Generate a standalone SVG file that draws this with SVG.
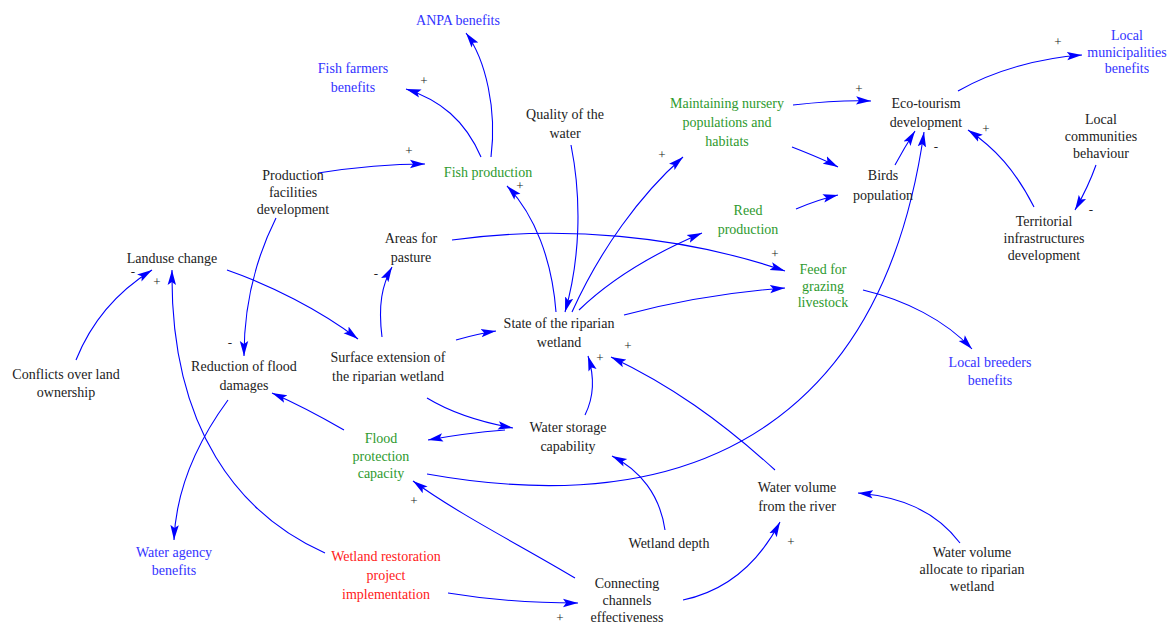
<svg xmlns="http://www.w3.org/2000/svg" width="1169" height="625" viewBox="0 0 1169 625">
<style>
text{font-family:"Liberation Serif","Times New Roman",serif;font-size:14px;text-anchor:middle;fill:#222}
.b{fill:#3333ff}.g{fill:#2e9a2e}.r{fill:#ff2020}
.s{font-size:13px;fill:#222}
#connectors path{fill:none;stroke:#0000ff;stroke-width:1.1;marker-end:url(#ah)}
</style>
<defs>
<marker id="ah" markerUnits="userSpaceOnUse" markerWidth="16" markerHeight="10" refX="15" refY="5" orient="auto">
<path d="M0,0.8 L15,5 L0,9.2 L3,5 Z" fill="#0000ff"/>
</marker>
</defs>
<rect width="1169" height="625" fill="#fff"/>
<g id="connectors">
<path d="M491,157 C497,110 486,60 466,33"/>
<path d="M481,157 C465,120 440,100 406,89"/>
<path d="M318,173 C350,168 390,164 425,164"/>
<path d="M276,218 C250,270 244,320 244,356"/>
<path d="M556,312 C552,260 535,215 507,186"/>
<path d="M571,145 C582,200 580,260 565,312"/>
<path d="M572,312 C600,250 640,195 683,157"/>
<path d="M793,105 C820,102 845,100 871,101"/>
<path d="M792,147 C810,154 825,160 838,167"/>
<path d="M796,209 C810,203 825,198 838,195"/>
<path d="M895,165 C902,152 908,142 915,131"/>
<path d="M427,474 C713,525 885,405 924,132"/>
<path d="M958,91 C995,70 1040,58 1082,55"/>
<path d="M1034,207 C1015,170 995,148 968,130"/>
<path d="M1096,165 C1090,182 1083,196 1075,210"/>
<path d="M452,240 C560,225 680,235 785,271"/>
<path d="M579,310 C610,280 655,253 702,233"/>
<path d="M624,315 C680,300 730,292 785,288"/>
<path d="M863,290 C905,300 945,320 972,349"/>
<path d="M227,270 C270,285 320,310 358,339"/>
<path d="M382,337 C378,305 382,285 392,267"/>
<path d="M456,340 C470,336 482,333 496,331"/>
<path d="M427,398 C450,412 480,422 513,428"/>
<path d="M505,430 C480,432 455,435 428,440"/>
<path d="M344,430 C318,415 295,403 272,393"/>
<path d="M228,400 C195,445 176,490 174,540"/>
<path d="M325,553 C240,515 170,430 172,270"/>
<path d="M76,360 C92,320 120,290 152,270"/>
<path d="M448,593 C490,600 530,603 578,603"/>
<path d="M575,578 C520,545 460,515 413,481"/>
<path d="M665,530 C660,495 640,470 612,456"/>
<path d="M683,600 C730,590 760,560 780,522"/>
<path d="M960,543 C935,510 900,497 858,493"/>
<path d="M775,470 C720,420 670,385 611,357"/>
<path d="M585,415 C595,395 594,375 588,356"/>
</g>
<g id="signs">
<text class="s" x="424" y="85">+</text>
<text class="s" x="409" y="155">+</text>
<text class="s" x="520" y="190">+</text>
<text class="s" x="662" y="159">+</text>
<text class="s" x="859" y="93">+</text>
<text class="s" x="1058" y="46">+</text>
<text class="s" x="986" y="133">+</text>
<text class="s" x="936" y="151">-</text>
<text class="s" x="1091" y="214">-</text>
<text class="s" x="775" y="258">+</text>
<text class="s" x="133" y="276">-</text>
<text class="s" x="157" y="286">+</text>
<text class="s" x="230" y="347">-</text>
<text class="s" x="376" y="278">-</text>
<text class="s" x="628" y="350">+</text>
<text class="s" x="600" y="362">+</text>
<text class="s" x="414" y="505">+</text>
<text class="s" x="560" y="622">+</text>
<text class="s" x="791" y="546">+</text>
</g>
<g id="n_anpa"><text class="b" x="458" y="25">ANPA benefits</text></g>
<g id="n_fishfarmers"><text class="b" x="353" y="73">Fish farmers<tspan x="353" dy="19">benefits</tspan></text></g>
<g id="n_production"><text x="293" y="180">Production<tspan x="293" dy="17">facilities</tspan><tspan x="293" dy="17">development</tspan></text></g>
<g id="n_fishprod"><text class="g" x="488" y="177">Fish production</text></g>
<g id="n_quality"><text x="565" y="119">Quality of the<tspan x="565" dy="19">water</tspan></text></g>
<g id="n_nursery"><text class="g" x="727" y="108">Maintaining nursery<tspan x="727" dy="19">populations and</tspan><tspan x="727" dy="19">habitats</tspan></text></g>
<g id="n_eco"><text x="926" y="108">Eco-tourism<tspan x="926" dy="19">development</tspan></text></g>
<g id="n_municip"><text class="b" x="1127" y="40">Local<tspan x="1127" dy="16.5">municipalities</tspan><tspan x="1127" dy="16.5">benefits</tspan></text></g>
<g id="n_communities"><text x="1101" y="124">Local<tspan x="1101" dy="17">communities</tspan><tspan x="1101" dy="17">behaviour</tspan></text></g>
<g id="n_birds"><text x="883" y="180">Birds<tspan x="883" dy="20">population</tspan></text></g>
<g id="n_territorial"><text x="1044" y="226">Territorial<tspan x="1044" dy="17">infrastructures</tspan><tspan x="1044" dy="17">development</tspan></text></g>
<g id="n_reed"><text class="g" x="748" y="215">Reed<tspan x="748" dy="19">production</tspan></text></g>
<g id="n_pasture"><text x="411" y="243">Areas for<tspan x="411" dy="19">pasture</tspan></text></g>
<g id="n_landuse"><text x="172" y="263">Landuse change</text></g>
<g id="n_feed"><text class="g" x="823" y="274">Feed for<tspan x="823" dy="16.5">grazing</tspan><tspan x="823" dy="16.5">livestock</tspan></text></g>
<g id="n_state"><text x="559" y="328">State of the riparian<tspan x="559" dy="19">wetland</tspan></text></g>
<g id="n_surface"><text x="388" y="362">Surface extension of<tspan x="388" dy="19">the riparian wetland</tspan></text></g>
<g id="n_reduction"><text x="244" y="371">Reduction of flood<tspan x="244" dy="19">damages</tspan></text></g>
<g id="n_conflicts"><text x="66" y="379">Conflicts over land<tspan x="66" dy="18">ownership</tspan></text></g>
<g id="n_breeders"><text class="b" x="990" y="367">Local breeders<tspan x="990" dy="18">benefits</tspan></text></g>
<g id="n_flood"><text class="g" x="381" y="443">Flood<tspan x="381" dy="17.5">protection</tspan><tspan x="381" dy="17.5">capacity</tspan></text></g>
<g id="n_storage"><text x="568" y="432">Water storage<tspan x="568" dy="19">capability</tspan></text></g>
<g id="n_river"><text x="797" y="492">Water volume<tspan x="797" dy="19">from the river</tspan></text></g>
<g id="n_depth"><text x="669" y="548">Wetland depth</text></g>
<g id="n_agency"><text class="b" x="174" y="557">Water agency<tspan x="174" dy="18">benefits</tspan></text></g>
<g id="n_restoration"><text class="r" x="386" y="561">Wetland restoration<tspan x="386" dy="19">project</tspan><tspan x="386" dy="19">implementation</tspan></text></g>
<g id="n_channels"><text x="627" y="588">Connecting<tspan x="627" dy="17">channels</tspan><tspan x="627" dy="17">effectiveness</tspan></text></g>
<g id="n_allocate"><text x="972" y="557">Water volume<tspan x="972" dy="17">allocate to riparian</tspan><tspan x="972" dy="17">wetland</tspan></text></g>
</svg>
